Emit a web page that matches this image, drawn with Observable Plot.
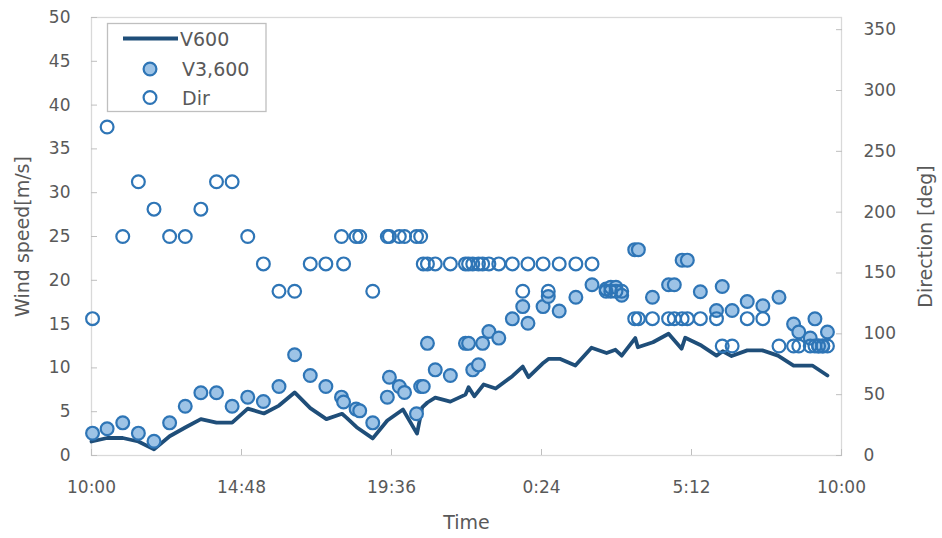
<!DOCTYPE html>
<html><head><meta charset="utf-8">
<script src="https://cdn.jsdelivr.net/npm/d3@7"></script>
<script src="https://cdn.jsdelivr.net/npm/@observablehq/plot@0.6"></script>
<style>body{margin:0;background:#fff}#chart{width:942px;height:538px}</style>
</head><body><div id="chart"></div>
<script>
// V600 (line)
const lineTimes = ["10:00","10:30","11:00","11:30","12:00","12:30","13:00","13:30","14:00","14:30","15:00","15:31","16:00","16:30","17:00","17:31","18:01","18:10","18:29","19:00","19:28","19:58","20:25","20:35","20:45","21:00","21:29","21:58","22:04","22:15","22:33","22:56","23:28","23:48","23:59","0:26","0:38","0:59","1:29","2:00","2:29","2:46","2:58","3:24","3:29","3:58","4:28","4:53","5:00","5:31","6:00","6:12","6:29","6:59","7:28","7:58","8:28","9:04","9:33"];
const lineV600 = [1.6,2.0,2.0,1.6,0.7,2.2,3.2,4.15,3.75,3.75,5.35,4.8,5.7,7.2,5.4,4.15,4.76,4.3,3.23,1.95,4.0,5.25,2.5,5.5,6.05,6.6,6.15,6.95,7.8,6.75,8.1,7.65,9.05,10.15,8.94,10.5,11.04,11.04,10.27,12.3,11.7,12.07,11.4,13.4,12.36,12.93,13.9,12.2,13.45,12.55,11.4,11.9,11.35,12.0,12.0,11.4,10.27,10.27,9.13];
// V3,600 and Dir (markers)
const ptTimes = ["10:02","10:30","11:00","11:30","12:00","12:30","13:00","13:30","14:00","14:30","15:00","15:30","16:00","16:30","17:00","17:30","18:00","18:04","18:28","18:35","19:00","19:28","19:32","19:51","20:01","20:24","20:32","20:37","20:45","21:00","21:29","21:58","22:04","22:12","22:23","22:31","22:43","23:02","23:28","23:48","23:58","0:27","0:37","0:58","1:30","2:01","2:28","2:37","2:47","2:58","3:23","3:30","3:57","4:28","4:39","4:54","5:04","5:29","6:00","6:11","6:30","6:59","7:29","8:00","8:28","8:38","9:00","9:09","9:16","9:24","9:33"];
const v3600 = [2.55,3.05,3.73,2.55,1.63,3.73,5.63,7.16,7.16,5.63,6.66,6.16,7.88,11.5,9.13,7.88,6.66,6.1,5.3,5.1,3.73,6.66,8.94,7.88,7.2,4.76,7.88,7.88,12.8,9.78,9.13,12.8,12.8,9.78,10.35,12.8,14.15,13.4,15.6,17.0,15.1,17.0,18.15,16.5,18.07,19.5,19.0,19.2,19.2,18.3,23.5,23.5,18.07,19.5,19.5,22.3,22.3,18.7,16.55,19.3,16.55,17.58,17.1,18.07,15.0,14.1,13.4,15.6,12.5,12.5,14.1];
const dirDeg = [112.5,270,180,225,202.5,180,180,202.5,225,225,180,157.5,135,135,157.5,157.5,180,157.5,180,180,135,180,180,180,180,180,180,157.5,157.5,157.5,157.5,157.5,157.5,157.5,157.5,157.5,157.5,157.5,157.5,135,157.5,157.5,135,157.5,157.5,157.5,135,135,135,135,112.5,112.5,112.5,112.5,112.5,112.5,112.5,112.5,112.5,90,90,112.5,112.5,90,90,90,90,90,90,90,90];
const xTickLabels = ["10:00","14:48","19:36","0:24","5:12","10:00"];
const speedTicks = [0,5,10,15,20,25,30,35,40,45,50];
const dirTicks = [0,50,100,150,200,250,300,350];
const dirMax = 360, speedMax = 50;

function toDate(s, nextDay) {
  const [h, m] = s.split(":").map(Number);
  const day = (nextDay || h < 10) ? 2 : 1;
  return new Date(Date.UTC(2000, 0, day, h, m));
}
const lineData = lineTimes.map((t, i) => ({t: toDate(t), v: lineV600[i]}));
const ptData = ptTimes.map((t, i) => ({t: toDate(t), v: v3600[i], dir: dirDeg[i]}));
const xTickDates = xTickLabels.map((s, i) => toDate(s, i === xTickLabels.length - 1));
const tickLabelOf = new Map(xTickDates.map((d, i) => [+d, xTickLabels[i]]));
const k = speedMax / dirMax;

const gray = "#595959";
const chart = Plot.plot({
  width: 942, height: 538,
  marginLeft: 91, marginRight: 101, marginTop: 17, marginBottom: 83,
  style: {fontFamily: "DejaVu Sans", fontSize: "17px", color: gray, background: "#fff", overflow: "visible"},
  x: {type: "utc", domain: [xTickDates[0], xTickDates[xTickDates.length - 1]]},
  y: {domain: [0, speedMax]},
  marks: [
    Plot.frame({stroke: "#d9d9d9", strokeWidth: 1.3}),
    Plot.axisX({ticks: xTickDates, tickFormat: d => tickLabelOf.get(+d), tickSize: -6, tickPadding: 31, stroke: "#bfbfbf", fill: gray, label: null}),
    Plot.axisY({anchor: "left", ticks: speedTicks, tickSize: -6, tickPadding: 27, stroke: "#bfbfbf", fill: gray, label: null}),
    Plot.axisY({anchor: "right", ticks: dirTicks.map(d => d * k), tickFormat: d => String(Math.round(d / k)), tickSize: -6, tickPadding: 28, stroke: "#bfbfbf", fill: gray, label: null}),
    Plot.line(lineData, {x: "t", y: "v", stroke: "#1f4e79", strokeWidth: 3.8, strokeLinejoin: "round"}),
    Plot.dot(ptData, {x: "t", y: "v", r: 6.4, fill: "#9dc3e6", stroke: "#2e75b6", strokeWidth: 2.2}),
    Plot.dot(ptData, {x: "t", y: d => d.dir * k, r: 6.4, fill: "none", stroke: "#2e75b6", strokeWidth: 2.2}),
    Plot.text(["Wind speed[m/s]"], {text: d => d, frameAnchor: "left", dx: -69, rotate: -90, fontSize: 19, fill: gray, textAnchor: "middle", lineAnchor: "middle"}),
    Plot.text(["Direction [deg]"], {text: d => d, frameAnchor: "right", dx: 84, rotate: -90, fontSize: 19, fill: gray, textAnchor: "middle", lineAnchor: "middle"}),
    Plot.text(["Time"], {text: d => d, frameAnchor: "bottom", dy: 67, fontSize: 19, fill: gray, textAnchor: "middle", lineAnchor: "middle"})
  ]
});
document.getElementById("chart").appendChild(chart);

// Legend (inside plot area, top-left)
const svg = d3.select(chart);
const lg = svg.append("g").attr("font-family", "DejaVu Sans").attr("font-size", 19).attr("fill", gray).attr("text-anchor", "start");
lg.append("rect").attr("x", 107.5).attr("y", 23.5).attr("width", 158.5).attr("height", 88).attr("fill", "#fff").attr("stroke", "#bfbfbf").attr("stroke-width", 1.3);
lg.append("line").attr("x1", 123).attr("x2", 178).attr("y1", 38.5).attr("y2", 38.5).attr("stroke", "#1f4e79").attr("stroke-width", 3.8);
lg.append("text").attr("x", 180).attr("y", 46).text("V600");
lg.append("circle").attr("cx", 150).attr("cy", 69).attr("r", 6.4).attr("fill", "#9dc3e6").attr("stroke", "#2e75b6").attr("stroke-width", 2.2);
lg.append("text").attr("x", 182).attr("y", 76).text("V3,600");
lg.append("circle").attr("cx", 150).attr("cy", 97.5).attr("r", 6.4).attr("fill", "none").attr("stroke", "#2e75b6").attr("stroke-width", 2.2);
lg.append("text").attr("x", 182).attr("y", 104.5).text("Dir");
</script>
</body></html>
